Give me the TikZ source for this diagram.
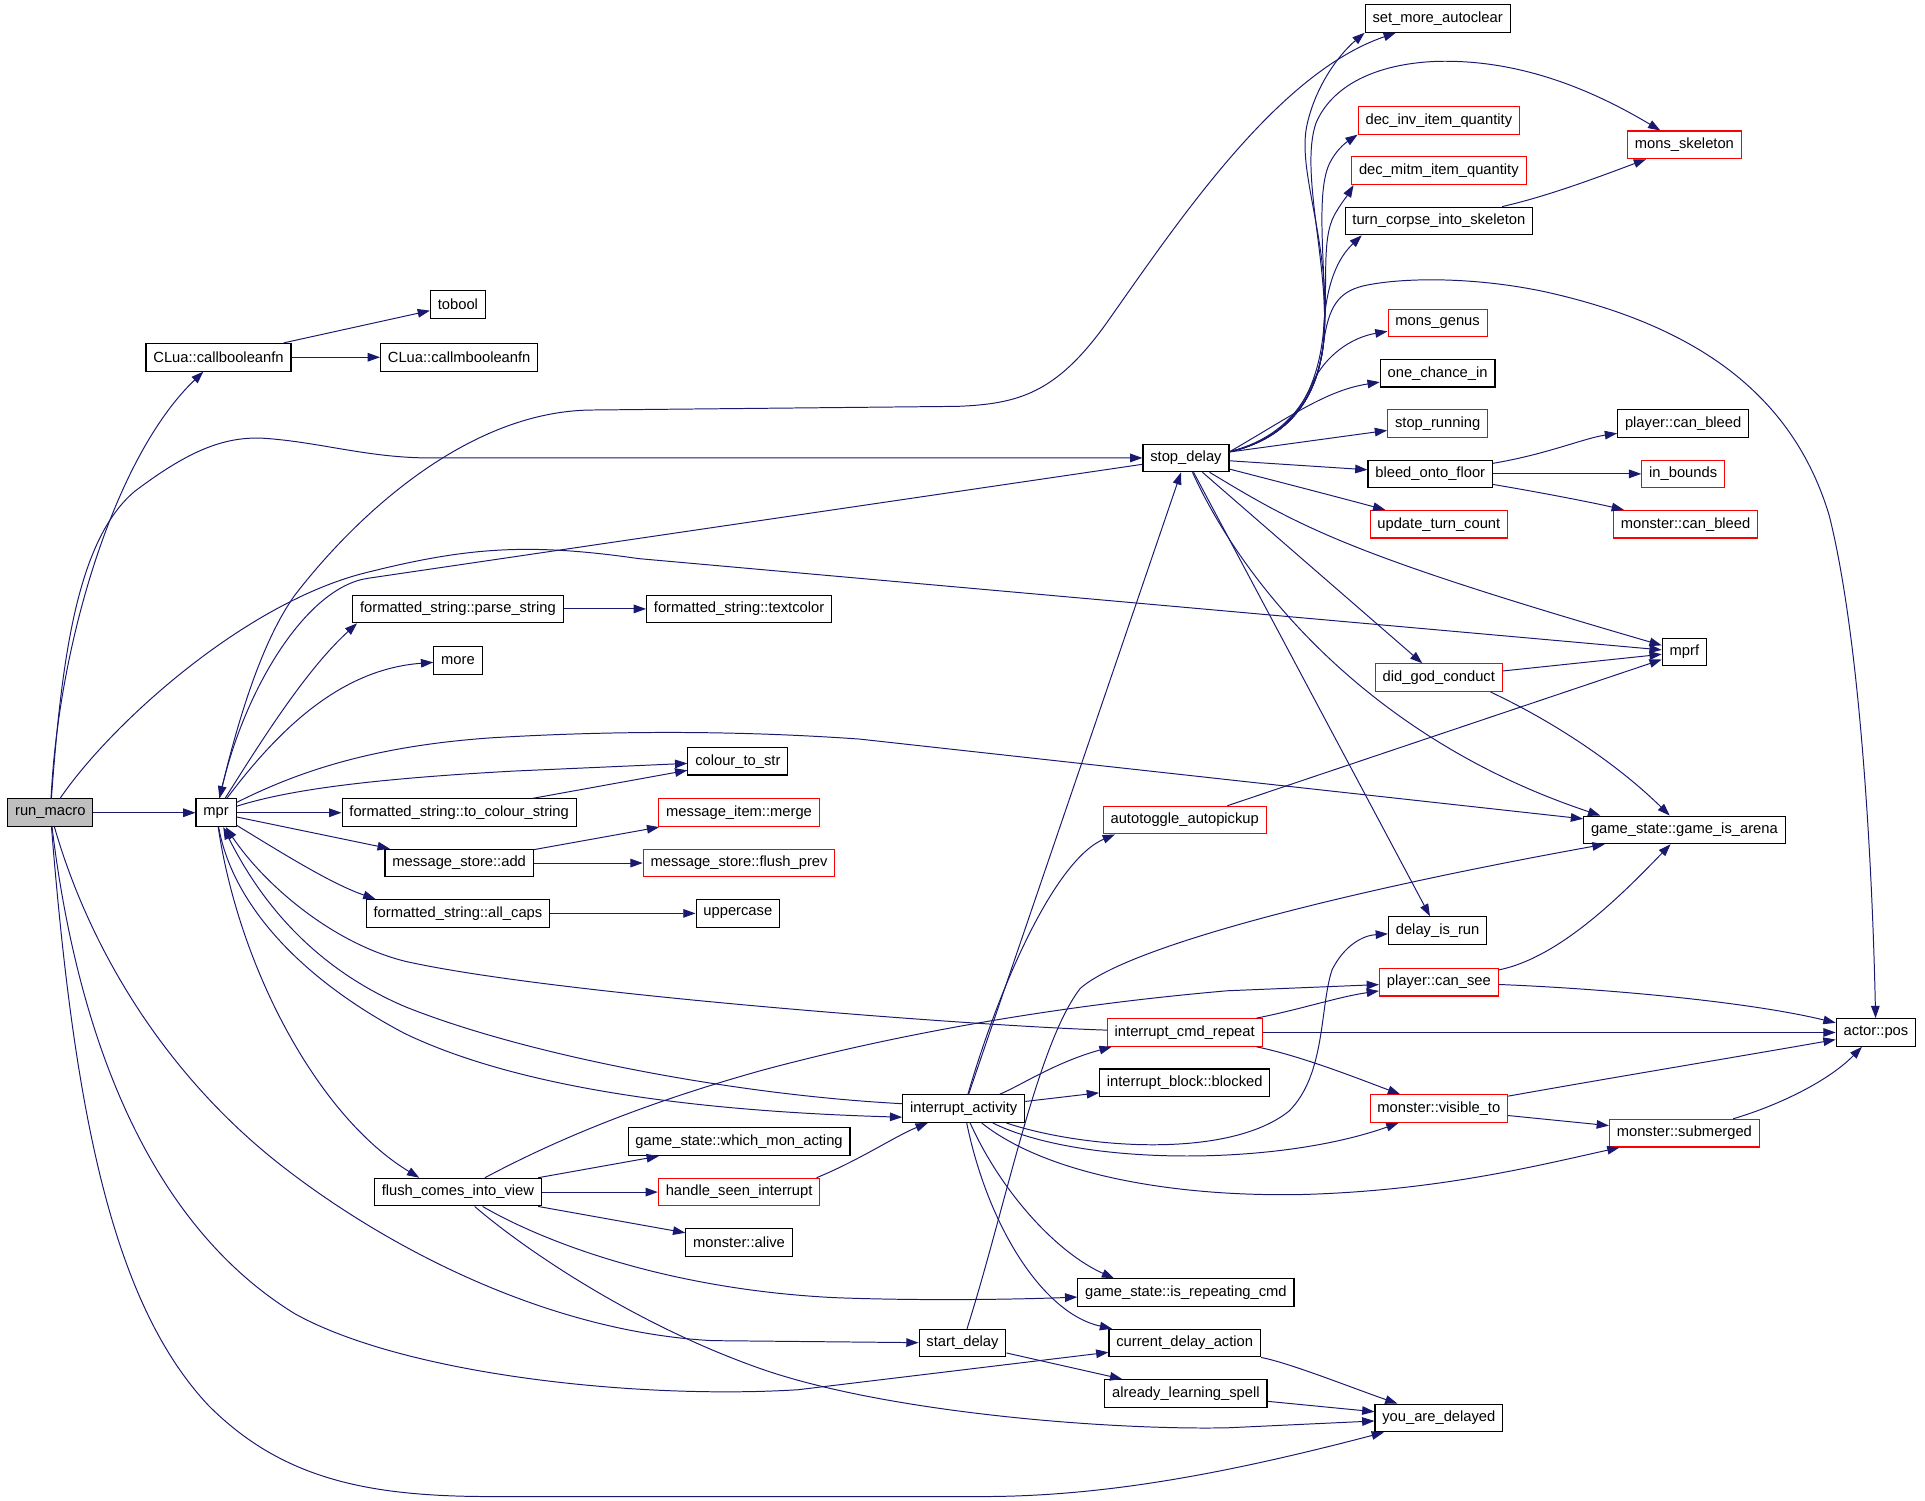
\documentclass[tikz,border=0pt]{standalone}
\usepackage{fontspec}
\setmainfont{Liberation Sans}
\usetikzlibrary{arrows.meta}
\definecolor{edgeblue}{RGB}{25,25,112}

\begin{document}
\begin{tikzpicture}[x=1pt,y=-1pt,
	fn/.style={draw=black,line width=0.9pt,fill=white,minimum height=22.5pt,inner xsep=6pt,inner ysep=0pt,font=\fontsize{12}{14}\selectfont},
	fnred/.style={fn,draw=red},
	fnroot/.style={fn,fill=black!25},
	calls/.style={edgeblue,line width=0.8pt,-{Triangle[length=10pt,width=7pt]}}]
	\useasboundingbox (0,0) rectangle (1568,1222);
	\node[fnroot] (runmacro) at (41,662) {run\_macro};
	\node[fn] (callbool) at (178,291) {CLua::callbooleanfn};
	\node[fn] (tobool) at (373,248) {tobool};
	\node[fn] (callmbool) at (374,291) {CLua::callmbooleanfn};
	\node[fn] (mpr) at (176,662) {mpr};
	\node[fn] (stopdelay) at (966,373) {stop\_delay};
	\node[fn] (setmore) at (1171,15) {set\_more\_autoclear};
	\node[fnred] (decinv) at (1172,98) {dec\_inv\_item\_quantity};
	\node[fnred] (monsskel) at (1372,118) {mons\_skeleton};
	\node[fnred] (decmitm) at (1172,139) {dec\_mitm\_item\_quantity};
	\node[fn] (turncorpse) at (1172,180) {turn\_corpse\_into\_skeleton};
	\node[fnred] (monsgenus) at (1171,263) {mons\_genus};
	\node[fn] (onechance) at (1171,304) {one\_chance\_in};
	\node[fnred] (stoprun) at (1171,345) {stop\_running};
	\node[fn] (pcanbleed) at (1371,345) {player::can\_bleed};
	\node[fn] (bleedfloor) at (1165,386) {bleed\_onto\_floor};
	\node[fnred] (inbounds) at (1371,386) {in\_bounds};
	\node[fnred] (updturn) at (1172,427) {update\_turn\_count};
	\node[fnred] (mcanbleed) at (1373,427) {monster::can\_bleed};
	\node[fn] (parsestr) at (373,496) {formatted\_string::parse\_string};
	\node[fn] (textcolor) at (602,496) {formatted\_string::textcolor};
	\node[fn] (more) at (373,538) {more};
	\node[fn] (mprf) at (1372,531) {mprf};
	\node[fnred] (didgod) at (1172,552) {did\_god\_conduct};
	\node[fn] (colourstr) at (601,620) {colour\_to\_str};
	\node[fn] (tocolour) at (374,662) {formatted\_string::to\_colour\_string};
	\node[fnred] (msgmerge) at (602,662) {message\_item::merge};
	\node[fnred] (autotoggle) at (965,668) {autotoggle\_autopickup};
	\node[fn] (isarena) at (1372,676) {game\_state::game\_is\_arena};
	\node[fn] (msgadd) at (374,703) {message\_store::add};
	\node[fnred] (flushprev) at (602,703) {message\_store::flush\_prev};
	\node[fn] (allcaps) at (373,744) {formatted\_string::all\_caps};
	\node[fn] (uppercase) at (601,744) {uppercase};
	\node[fn] (delayrun) at (1171,758) {delay\_is\_run};
	\node[fnred] (cansee) at (1172,800) {player::can\_see};
	\node[fnred] (intcmd) at (965,841) {interrupt\_cmd\_repeat};
	\node[fn] (actorpos) at (1528,841) {actor::pos};
	\node[fn] (intblocked) at (965,882) {interrupt\_block::blocked};
	\node[fn] (intact) at (785,903) {interrupt\_activity};
	\node[fnred] (visibleto) at (1172,903) {monster::visible\_to};
	\node[fnred] (submerged) at (1372,923) {monster::submerged};
	\node[fn] (whichmon) at (602,930) {game\_state::which\_mon\_acting};
	\node[fn] (flushview) at (373,971) {flush\_comes\_into\_view};
	\node[fnred] (handleseen) at (602,971) {handle\_seen\_interrupt};
	\node[fn] (malive) at (602,1012) {monster::alive};
	\node[fn] (repeatcmd) at (966,1053) {game\_state::is\_repeating\_cmd};
	\node[fn] (startdelay) at (784,1094) {start\_delay};
	\node[fn] (curdelay) at (965,1094) {current\_delay\_action};
	\node[fn] (learning) at (966,1135) {already\_learning\_spell};
	\node[fn] (delayed) at (1172,1155) {you\_are\_delayed};

	\draw[calls] (runmacro) .. controls (48,520) and (95,370) .. (callbool);
	\draw[calls] (runmacro) .. controls (50,540) and (62,440) .. (110,400) .. controls (150,370) and (180,355) .. (215,357) .. controls (260,360) and (300,373) .. (350,373) -- (stopdelay);
	\draw[calls] (runmacro) -- (mpr);
	\draw[calls] (runmacro) .. controls (90,590) and (200,490) .. (300,466) .. controls (380,446) and (430,442) .. (520,455) -- (mprf);
	\draw[calls] (runmacro) .. controls (75,780) and (140,880) .. (230,950) .. controls (320,1020) and (450,1085) .. (580,1092) -- (startdelay);
	\draw[calls] (runmacro) .. controls (60,820) and (110,990) .. (240,1070) .. controls (330,1120) and (520,1140) .. (650,1132) -- (curdelay);
	\draw[calls] (runmacro) .. controls (60,900) and (90,1060) .. (170,1145) .. controls (230,1205) and (300,1219) .. (400,1219) -- (800,1219) .. controls (900,1219) and (1000,1200) .. (delayed);
	\draw[calls] (callbool) -- (tobool);
	\draw[calls] (callbool) -- (callmbool);

	\draw[calls] (mpr) .. controls (195,580) and (215,520) .. (240,485) .. controls (290,420) and (380,336) .. (480,334) -- (780,331) .. controls (830,329) and (860,320) .. (900,265) .. controls (960,180) and (1040,60) .. (setmore);
	\draw[calls] (mpr) .. controls (215,600) and (250,545) .. ([xshift=4pt]parsestr.south west);
	\draw[calls] (mpr) .. controls (230,590) and (280,545) .. (more);
	\draw[calls] (mpr) .. controls (230,645) and (290,635) .. (420,628) -- (colourstr);
	\draw[calls] (mpr) -- (tocolour);
	\draw[calls] (mpr) .. controls (240,630) and (300,608) .. (400,601) .. controls (500,595) and (600,595) .. (700,602) -- (isarena);
	\draw[calls] (mpr) -- (msgadd);
	\draw[calls] (mpr) .. controls (230,695) and (270,720) .. ([xshift=8pt]allcaps.north west);
	\draw[calls] (mpr) .. controls (195,790) and (260,910) .. ([xshift=37pt]flushview.north west);
	\draw[calls] (mpr) .. controls (190,740) and (250,800) .. (330,842) .. controls (420,885) and (560,905) .. ([yshift=-7pt]intact.west);
	\draw[calls] ([xshift=-36pt]tocolour.north east) -- (colourstr);
	\draw[calls] (parsestr) -- (textcolor);
	\draw[calls] (msgadd) -- (msgmerge);
	\draw[calls] (msgadd) -- (flushprev);
	\draw[calls] (allcaps) -- (uppercase);

	\draw[calls] (flushview) .. controls (450,930) and (520,900) .. (620,872) .. controls (720,845) and (850,820) .. (1000,807) -- (cansee);
	\draw[calls] (flushview) -- (whichmon);
	\draw[calls] (flushview) -- (handleseen);
	\draw[calls] (flushview) -- (malive);
	\draw[calls] (flushview) .. controls (440,1010) and (540,1050) .. (680,1057) .. controls (760,1060) and (840,1058) .. (repeatcmd);
	\draw[calls] (flushview) .. controls (430,1020) and (520,1080) .. (620,1115) .. controls (720,1150) and (900,1165) .. (1000,1163) -- (delayed);
	\draw[calls] ([xshift=-3pt]handleseen.north east) .. controls (700,945) and (730,925) .. (intact);

	\draw[calls] ([yshift=4pt]intact.west) .. controls (600,892) and (430,860) .. (330,820) .. controls (260,790) and (215,740) .. (mpr);
	\draw[calls] (intact) -- (stopdelay);
	\draw[calls] (intact) .. controls (815,800) and (860,700) .. ([xshift=10pt]autotoggle.south west);
	\draw[calls] (intact) .. controls (830,885) and (860,865) .. ([xshift=4pt]intcmd.south west);
	\draw[calls] (intact) -- (intblocked);
	\draw[calls] (intact) .. controls (880,935) and (1000,945) .. (1050,905) .. controls (1080,875) and (1075,820) .. (1085,790) .. controls (1095,770) and (1110,762) .. (delayrun);
	\draw[calls] (intact) .. controls (880,950) and (1040,950) .. (visibleto);
	\draw[calls] (intact) .. controls (850,955) and (950,975) .. (1060,973) .. controls (1170,970) and (1250,950) .. (submerged);
	\draw[calls] (intact) .. controls (815,970) and (860,1020) .. ([xshift=30pt]repeatcmd.north west);
	\draw[calls] (intact) .. controls (805,1000) and (850,1070) .. ([xshift=3pt]curdelay.north west);

	\draw[calls] (intcmd) .. controls (800,836) and (450,810) .. (330,783) .. controls (270,768) and (215,720) .. (mpr);
	\draw[calls] (intcmd) .. controls (1060,822) and (1090,812) .. (cansee);
	\draw[calls] (intcmd) -- (actorpos);
	\draw[calls] (intcmd) .. controls (1060,860) and (1110,880) .. (visibleto);
	\draw[calls] (visibleto) .. controls (1300,880) and (1420,860) .. (actorpos);
	\draw[calls] (visibleto) -- (submerged);
	\draw[calls] (submerged) .. controls (1450,900) and (1490,880) .. (actorpos);
	\draw[calls] (cansee) .. controls (1300,805) and (1420,815) .. (actorpos);
	\draw[calls] (cansee) .. controls (1270,780) and (1320,730) .. (isarena);
	\draw[calls] (didgod) -- (mprf);
	\draw[calls] ([xshift=-10pt]didgod.south east) .. controls (1270,590) and (1320,625) .. (isarena);
	\draw[calls] (autotoggle) -- (mprf);

	\draw[calls] (startdelay) .. controls (820,980) and (845,850) .. (880,805) .. controls (920,770) and (1100,725) .. (isarena);
	\draw[calls] (startdelay) -- (learning);
	\draw[calls] (curdelay) .. controls (1050,1110) and (1100,1130) .. (delayed);
	\draw[calls] (learning) -- (delayed);

	\draw[calls] (stopdelay) -- (300,471) .. controls (250,478) and (200,560) .. (mpr);
	\draw[calls] ([yshift=5pt]stopdelay.east) .. controls (1045,358) and (1072,330) .. (1078,280) .. controls (1086,200) and (1055,140) .. (1065,100) .. controls (1072,70) and (1090,45) .. (setmore.south west);
	\draw[calls] ([yshift=5pt]stopdelay.east) .. controls (1045,358) and (1072,330) .. (1078,280) .. controls (1084,220) and (1058,140) .. (1072,100) .. controls (1085,70) and (1120,52) .. (1170,50) .. controls (1240,48) and (1300,75) .. (monsskel);
	\draw[calls] ([yshift=5pt]stopdelay.east) .. controls (1045,358) and (1072,330) .. (1078,280) .. controls (1082,230) and (1070,160) .. (1083,133) .. controls (1088,123) and (1095,117) .. (decinv.south west);
	\draw[calls] ([yshift=5pt]stopdelay.east) .. controls (1045,358) and (1072,330) .. (1078,280) .. controls (1082,230) and (1076,195) .. (1087,175) .. controls (1092,166) and (1097,160) .. ([xshift=2pt]decmitm.south west);
	\draw[calls] ([yshift=5pt]stopdelay.east) .. controls (1045,358) and (1072,330) .. (1078,270) .. controls (1080,230) and (1090,210) .. ([xshift=14pt]turncorpse.south west);
	\draw[calls] ([yshift=5pt]stopdelay.east) .. controls (1045,358) and (1072,330) .. (1078,280) .. controls (1082,250) and (1090,238) .. (1110,233) .. controls (1140,226) and (1200,225) .. (1260,238) .. controls (1380,265) and (1460,320) .. (1490,420) .. controls (1515,520) and (1525,700) .. (actorpos);
	\draw[calls] ([yshift=5pt]stopdelay.east) .. controls (1040,358) and (1060,335) .. (1070,310) .. controls (1080,290) and (1100,275) .. (monsgenus);
	\draw[calls] ([yshift=5pt]stopdelay.east) .. controls (1050,340) and (1080,318) .. (onechance);
	\draw[calls] (stopdelay) -- (stoprun);
	\draw[calls] (stopdelay) -- (bleedfloor);
	\draw[calls] (stopdelay) .. controls (1040,392) and (1090,405) .. (updturn);
	\draw[calls] (stopdelay) .. controls (1060,430) and (1100,452) .. (mprf);
	\draw[calls] (stopdelay) -- (didgod);
	\draw[calls] (stopdelay) .. controls (1010,470) and (1110,600) .. ([xshift=14pt]isarena.north west);
	\draw[calls] (stopdelay) -- (delayrun);
	\draw[calls] (turncorpse) .. controls (1260,160) and (1300,145) .. (monsskel);
	\draw[calls] (bleedfloor) .. controls (1260,370) and (1290,357) .. (pcanbleed);
	\draw[calls] (bleedfloor) -- (inbounds);
	\draw[calls] (bleedfloor) .. controls (1260,402) and (1300,410) .. (mcanbleed);
\end{tikzpicture}
\end{document}
